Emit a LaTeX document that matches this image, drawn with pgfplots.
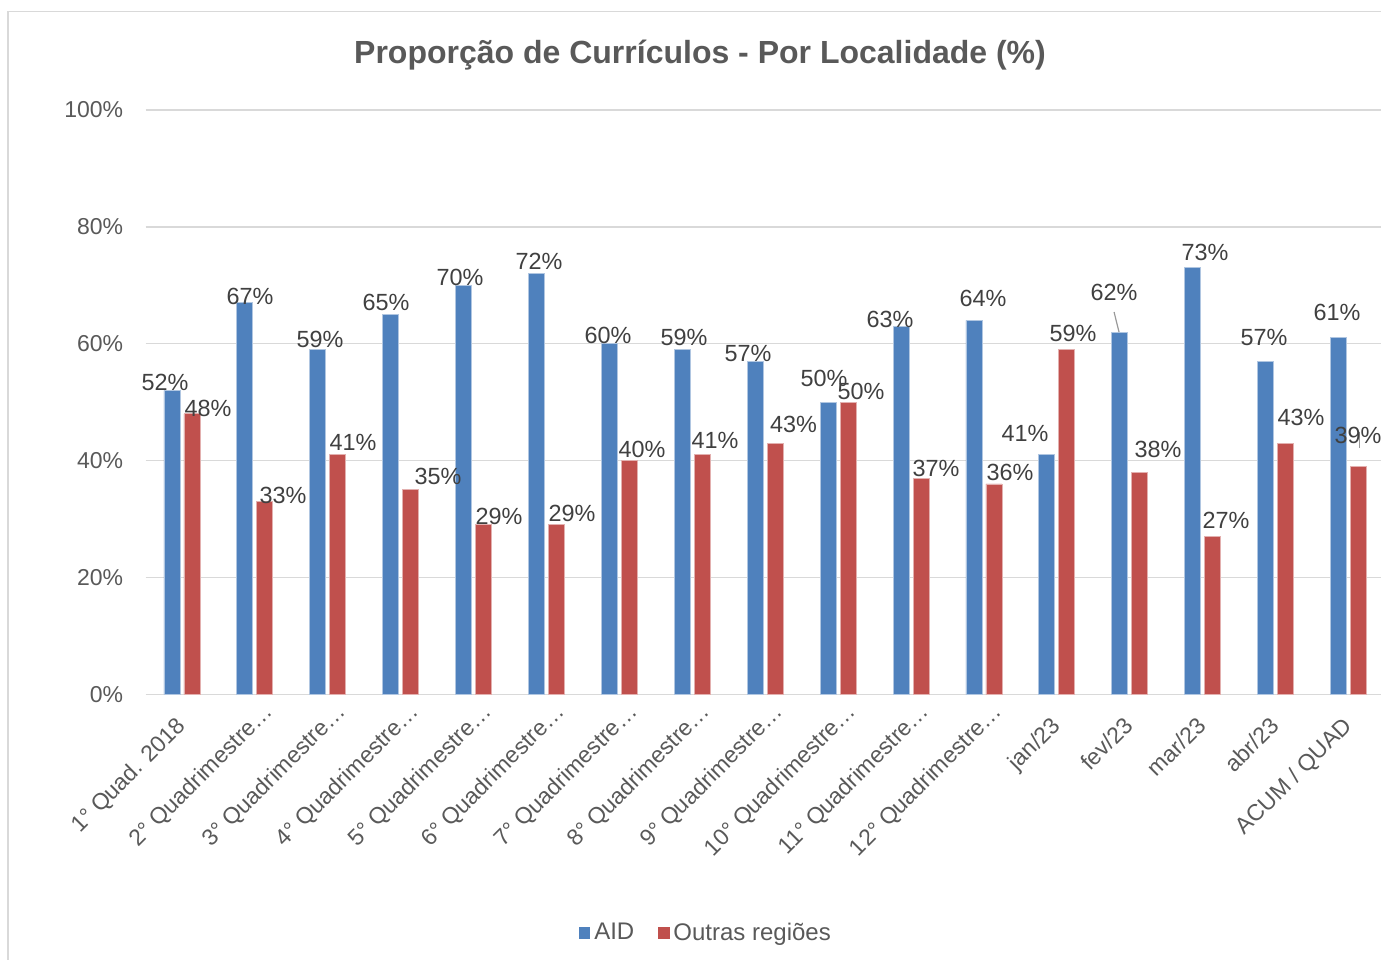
\documentclass[border=0pt]{standalone}
\usepackage{fontspec}
\setmainfont{Liberation Sans}
\usepackage{pgfplots}
\pgfplotsset{compat=1.18}
\usepackage{pgfplotstable}
\definecolor{barblue}{HTML}{4F81BD}
\definecolor{barred}{HTML}{C0504D}
\definecolor{txtgray}{HTML}{595959}
\definecolor{lblgray}{HTML}{404040}
\definecolor{gridgray}{HTML}{D9D9D9}

\pgfplotstableread{
x aid outras
0 52 48
1 67 33
2 59 41
3 65 35
4 70 29
5 72 29
6 60 40
7 59 41
8 57 43
9 50 50
10 63 37
11 64 36
12 41 59
13 62 38
14 73 27
15 57 43
16 61 39
}\bars

\pgfplotstableread{
x y v
-0.233 53.45 52
0.933 68.02 67
1.893 60.66 59
2.798 67.14 65
3.814 71.41 70
4.897 74.16 72
5.844 61.50 60
6.886 61.00 59
7.764 58.41 57
8.807 54.13 50
9.712 64.23 63
10.988 67.83 64
11.564 44.72 41
12.785 68.69 62
14.033 75.54 73
14.842 60.98 57
15.844 65.35 61
}\aidlabels

\pgfplotstableread{
x y v
0.357 49.00 48
1.385 34.00 33
2.346 43.18 41
3.512 37.20 35
4.348 30.50 29
5.350 31.00 29
6.310 41.86 40
7.311 43.40 41
8.388 46.10 43
9.314 51.91 50
10.343 38.72 37
11.358 38.03 36
12.222 61.83 59
13.388 41.98 38
14.321 29.83 27
15.350 47.32 43
16.132 44.38 39
}\redlabels

\newcommand{\trunc}[1]{#1…\hspace*{-10pt}}

\begin{document}
\begin{tikzpicture}[x=1pt,y=1pt]
\path[use as bounding box] (0,0) rectangle (690.5,479.5);
\draw[gridgray, line width=0.75pt] (4,473.75) rectangle (700,-10);
\begin{axis}[
  at={(72.75pt,132.35pt)}, anchor=south west,
  scale only axis, width=619.7pt, height=292.15pt,
  xmin=-0.5, xmax=16.5, ymin=0, ymax=100,
  axis line style={draw=none},
  ymajorgrids, grid style={gridgray, line width=0.75pt},
  ytick={0,20,40,60,80,100},
  yticklabels={0\%,20\%,40\%,60\%,80\%,100\%},
  xtick={0,...,16},
  xticklabels={1° Quad. 2018, \trunc{2° Quadrimestre}, \trunc{3° Quadrimestre}, \trunc{4° Quadrimestre}, \trunc{5° Quadrimestre}, \trunc{6° Quadrimestre}, \trunc{7° Quadrimestre}, \trunc{8° Quadrimestre}, \trunc{9° Quadrimestre}, \trunc{10° Quadrimestre}, \trunc{11° Quadrimestre}, \trunc{12° Quadrimestre}, jan/23, fev/23, mar/23, abr/23, ACUM / QUAD},
  major tick length=0pt,
  tick label style={font=\fontsize{11.5}{13}\selectfont, text=txtgray},
  yticklabel style={anchor=east, inner sep=0pt, xshift=-11pt},
  xticklabel style={xshift=-3.5pt, yshift=-10.3pt, rotate=45, anchor=north east, inner sep=0pt},
  clip=false,
  every axis title shift=0pt,
  title={Proporção de Currículos - Por Localidade (\%)},
  title style={at={(0.4474,1.0941)}, anchor=center, font=\bfseries\fontsize{16}{19}\selectfont, text=txtgray},
  legend style={at={(0.4530,-0.4085)}, anchor=center, draw=none, fill=none,
    font=\fontsize{12}{14}\selectfont, text=txtgray,
    /tikz/every even column/.append style={column sep=10pt}},
  legend columns=2,
  legend cell align=left,
]
\addplot[ybar, bar width=8pt, bar shift=-5pt, fill=barblue, draw=white!55!barblue, line width=0.4pt, forget plot] table[x=x,y=aid]{\bars};
\addplot[ybar, bar width=8pt, bar shift=5pt, fill=barred, draw=white!55!barred, line width=0.4pt, forget plot] table[x=x,y=outras]{\bars};
\addplot[gray!80, line width=0.6pt, forget plot] coordinates {(12.785,65.43) (12.853,62.0)};
\addplot[gray!80, line width=0.6pt, forget plot] coordinates {(16.146,44.81) (16.146,42.07)};
\addplot[only marks, mark=*, mark size=0pt, mark options={draw=none,fill=none}, forget plot,
  point meta=explicit symbolic, nodes near coords={\pgfplotspointmeta\%},
  nodes near coords style={anchor=center, inner sep=0pt, text=lblgray, font=\fontsize{11.7}{13}\selectfont}]
  table[x=x,y=y,meta=v]{\aidlabels};
\addplot[only marks, mark=*, mark size=0pt, mark options={draw=none,fill=none}, forget plot,
  point meta=explicit symbolic, nodes near coords={\pgfplotspointmeta\%},
  nodes near coords style={anchor=center, inner sep=0pt, text=lblgray, font=\fontsize{11.7}{13}\selectfont}]
  table[x=x,y=y,meta=v]{\redlabels};
\addlegendimage{legend image code/.code={\fill[barblue] (-1pt,-2.6pt) rectangle (4.2pt,2.6pt);}}
\addlegendentry{AID}
\addlegendimage{legend image code/.code={\fill[barred] (-1pt,-2.6pt) rectangle (4.2pt,2.6pt);}}
\addlegendentry{Outras regiões}
\end{axis}
\end{tikzpicture}
\end{document}
